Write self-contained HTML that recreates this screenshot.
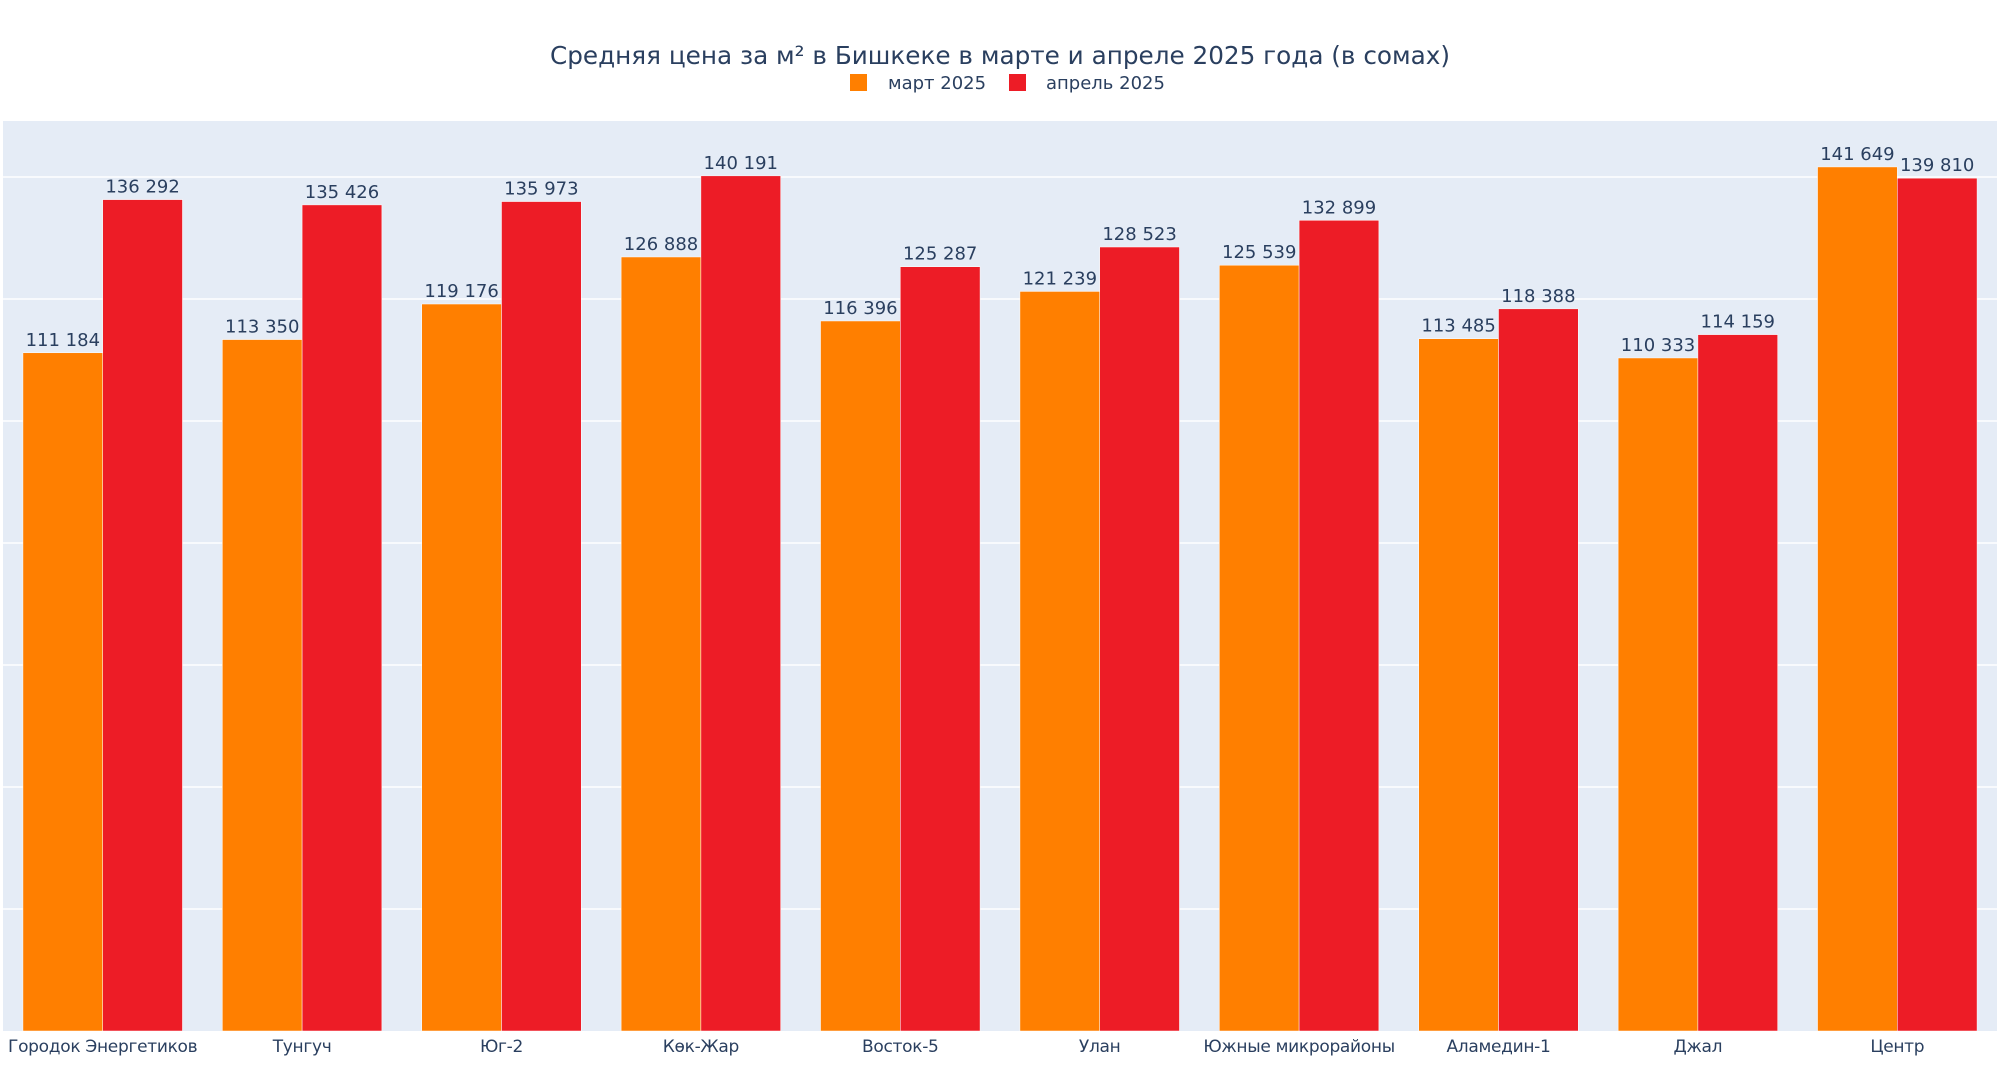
<!DOCTYPE html>
<html><head><meta charset="utf-8"><style>
html,body{margin:0;padding:0;background:#fff;}
svg text{font-family:"DejaVu Sans","Liberation Sans",sans-serif;fill:#2a3f5f;}
</style></head><body>
<svg id="chart" width="2000" height="1061" xmlns="http://www.w3.org/2000/svg">
<rect x="3" y="121" width="1994" height="910" fill="#e5ecf6"/>
<g id="grid"></g>
<g id="bars"></g>
<g id="labels"></g>
<g id="ticks"></g>
<text x="1000" y="64" text-anchor="middle" font-size="24.7">Средняя цена за м² в Бишкеке в марте и апреле 2025 года (в сомах)</text>
<g>
<rect x="850" y="74" width="17" height="17" fill="#ff7f00"/>
<text x="888" y="89" font-size="18">март 2025</text>
<rect x="1009" y="74" width="17" height="17" fill="#ed1c26"/>
<text x="1046" y="89" font-size="18">апрель 2025</text>
</g>
</svg>
<script>
const categories=["Городок Энергетиков","Тунгуч","Юг-2","Көк-Жар","Восток-5","Улан","Южные микрорайоны","Аламедин-1","Джал","Центр"];
const march=[111184,113350,119176,126888,116396,121239,125539,113485,110333,141649];
const april=[136292,135426,135973,140191,125287,128523,132899,118388,114159,139810];
const gridValues=[20000,40000,60000,80000,100000,120000,140000];
const NS="http://www.w3.org/2000/svg";
const X0=3,X1=1997,Y0=1031,Y1=121,YMAX=149180;
const bandW=(X1-X0)/categories.length;
const y=v=>Y0-(v/YMAX)*(Y0-Y1);
const xc=i=>X0+bandW*(i+0.5);
const bw=bandW*0.4;
function mk(tag,attrs,parent){const e=document.createElementNS(NS,tag);for(const k in attrs)e.setAttribute(k,attrs[k]);parent.appendChild(e);return e;}
const fmt=v=>String(v).replace(/\B(?=(\d{3})+(?!\d))/g," ");
const grid=document.getElementById('grid'),bars=document.getElementById('bars'),labels=document.getElementById('labels'),ticks=document.getElementById('ticks');
gridValues.forEach(v=>{
  const l=mk('line',{x1:X0,x2:X1,y1:y(v),y2:y(v),stroke:'#fff','stroke-width':1.5},grid);
  
  
});
const series=[{vals:march,color:'#ff7f00',name:'march',off:-1},{vals:april,color:'#ed1c26',name:'april',off:0}];
categories.forEach((c,i)=>{
  series.forEach(s=>{
    const v=s.vals[i];
    const x=xc(i)+s.off*bw;
    const r=mk('rect',{x:x,y:y(v),width:bw,height:Y0-y(v),fill:s.color,stroke:'#fff','stroke-width':0.5},bars);
    
    
    const t=mk('text',{x:x+bw/2,y:y(v)-7,'text-anchor':'middle','font-size':18},labels);
    t.textContent=fmt(v);
    
    
  });
  const t=mk('text',{x:xc(i),y:1052,'text-anchor':'middle','font-size':17,'textLength':0},ticks);
  t.removeAttribute('textLength');
  t.setAttribute('style','font-size:17px;letter-spacing:-0.3px');
  t.textContent=c;
  
  
});
</script>
</body></html>
